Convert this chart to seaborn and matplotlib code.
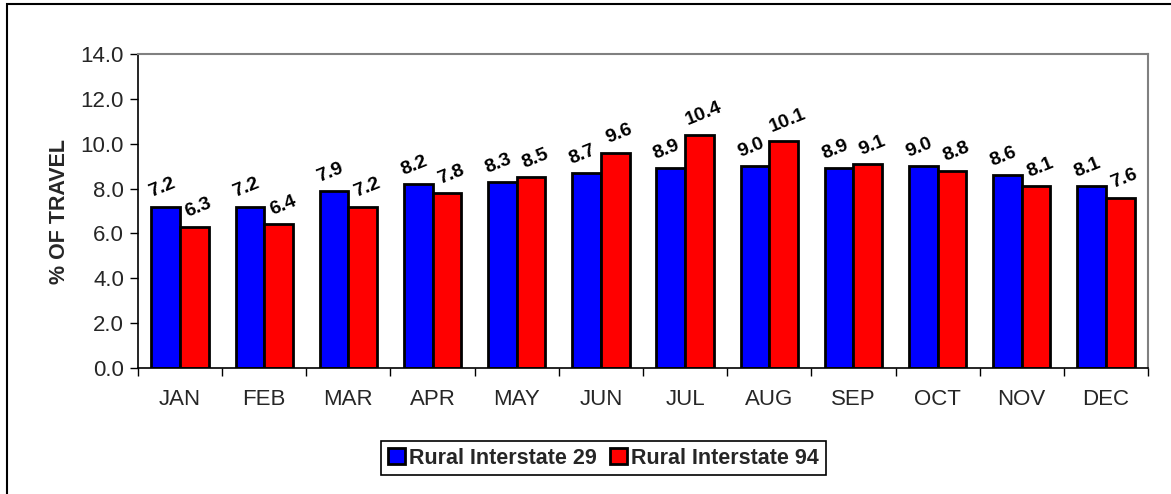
import matplotlib
matplotlib.use("Agg")
from matplotlib import pyplot as plt
from matplotlib.patches import Rectangle
from matplotlib.ticker import FixedLocator, FormatStrFormatter
import pandas as pd
import seaborn as sns

months = ["JAN", "FEB", "MAR", "APR", "MAY", "JUN", "JUL", "AUG", "SEP", "OCT", "NOV", "DEC"]
series_names = ["Rural Interstate 29", "Rural Interstate 94"]
i29 = [7.2, 7.2, 7.9, 8.2, 8.3, 8.7, 8.9, 9.0, 8.9, 9.0, 8.6, 8.1]
i94 = [6.3, 6.4, 7.2, 7.8, 8.5, 9.6, 10.4, 10.1, 9.1, 8.8, 8.1, 7.6]
y_ticks = [0, 2, 4, 6, 8, 10, 12, 14]

df = pd.DataFrame({
    "month": months * 2,
    "road": [series_names[0]] * len(months) + [series_names[1]] * len(months),
    "pct": i29 + i94,
})

sns.set_theme(style="white")
plt.rcParams["font.family"] = ["Liberation Sans", "DejaVu Sans"]

fig = plt.figure(figsize=(11.71, 4.94), dpi=100)
ax = fig.add_axes([138 / 1171, 1 - 368 / 494, (1148 - 138) / 1171, (368 - 54) / 494])

sns.barplot(data=df, x="month", y="pct", hue="road", order=months, hue_order=series_names,
            palette=["#0000FF", "#FF0000"], width=0.68, edgecolor="black", linewidth=2,
            saturation=1, ax=ax, legend=True)

# value labels, tilted like the original; blue ones nudged left, red ones right
for cont, dx in zip(ax.containers, [-3, 3]):
    for bar in cont:
        h = bar.get_height()
        ax.annotate(f"{h:.1f}", (bar.get_x() + bar.get_width() / 2, h),
                    xytext=(dx, 4), textcoords="offset points",
                    ha="center", va="bottom", rotation=22,
                    fontsize=14, fontweight="bold", color="black")

ax.set_ylim(0, 14)
ax.set_xlim(-0.5, len(months) - 0.5)
ax.yaxis.set_major_locator(FixedLocator(y_ticks))
ax.yaxis.set_major_formatter(FormatStrFormatter("%.1f"))
ax.set_ylabel("% OF TRAVEL", fontsize=15.5, fontweight="bold", labelpad=8)
ax.set_xlabel("")
ax.tick_params(axis="y", which="major", direction="out", length=6, width=1, color="black",
               labelsize=16, pad=4, left=True)
ax.tick_params(axis="x", which="major", length=0, labelsize=16, pad=15)
ax.xaxis.set_minor_locator(FixedLocator([i - 0.5 for i in range(len(months) + 1)]))
ax.tick_params(axis="x", which="minor", direction="out", length=6, width=1, color="black", bottom=True)

for side in ["left", "bottom"]:
    ax.spines[side].set_color("black")
    ax.spines[side].set_linewidth(1.2)
for side in ["top", "right"]:
    ax.spines[side].set_color("#808080")
    ax.spines[side].set_linewidth(1.5)

leg = ax.legend(loc="center", bbox_to_anchor=((603.5 - 138) / 1010, (368 - 458) / 314),
                ncol=2, frameon=True, fancybox=False, edgecolor="black", framealpha=1,
                prop={"size": 15.5, "weight": "bold"}, handlelength=0.8, handleheight=0.8,
                handletextpad=0.2, columnspacing=0.6, borderpad=0.3, borderaxespad=0)
leg.get_frame().set_linewidth(1.2)
for hnd in leg.legend_handles:
    hnd.set_edgecolor("black")
    hnd.set_linewidth(2)

# outer chart border (only top and left visible in the original crop)
fig.patches.append(Rectangle((7 / 1171, -0.1), 1.2, 1 - 4 / 494 + 0.1, transform=fig.transFigure,
                             fill=False, edgecolor="black", linewidth=1.5))

fig.savefig("out.png", dpi=100, facecolor="white")
